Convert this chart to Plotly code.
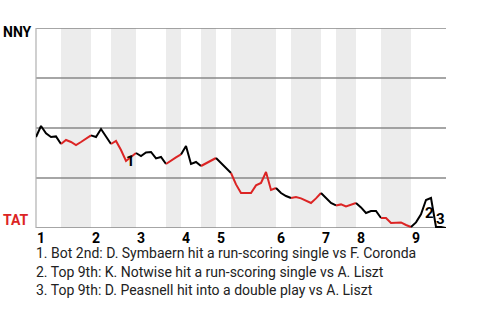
import plotly.graph_objects as go

# NNY win probability after each play (0 = TAT wins, 1 = NNY wins)
win_prob = [
    0.455, 0.51, 0.473, 0.455, 0.458, 0.42, 0.44, 0.43, 0.415, 0.43,
    0.448, 0.463, 0.455, 0.495, 0.46, 0.42, 0.435, 0.39, 0.335, 0.355,
    0.375, 0.36, 0.378, 0.38, 0.348, 0.355, 0.32, 0.338, 0.353, 0.368,
    0.41, 0.32, 0.33, 0.31, 0.323, 0.338, 0.35, 0.325, 0.303, 0.275,
    0.218, 0.175, 0.175, 0.175, 0.213, 0.225, 0.28, 0.19, 0.20, 0.175,
    0.16, 0.15, 0.155, 0.148, 0.135, 0.125, 0.148, 0.175, 0.15, 0.125,
    0.113, 0.118, 0.108, 0.115, 0.125, 0.103, 0.075, 0.085, 0.085, 0.05,
    0.05, 0.025, 0.025, 0.028, 0.015, 0.005, 0.028, 0.068, 0.14, 0.15,
    0.005, 0.005, 0.0,
]
# play index where each half inning starts
top_starts = [0, 11, 20, 29, 36, 48, 57, 64, 75]
bot_starts = [5, 15, 26, 33, 39, 51, 60, 69]
last_play = 82
inning_labels = ["1", "2", "3", "4", "5", "6", "7", "8", "9"]
grid_values = [0, 0.25, 0.5, 0.75, 1]

# key plays: (play index, label)
key_plays = [(18, "1"), (78, "2"), (80, "3")]
key_shifts = [(4, 0), (3, -13), (4, 8)]
notes = [
    "1. Bot 2nd: D. Symbaern hit a run-scoring single vs F. Coronda",
    "2. Top 9th: K. Notwise hit a run-scoring single vs A. Liszt",
    "3. Top 9th: D. Peasnell hit into a double play vs A. Liszt",
]
away_team = "NNY"
home_team = "TAT"

RED = "#dc2424"
FONT = "Roboto"

fig = go.Figure()

# half-inning intervals
halves = []
for s in top_starts:
    halves.append((s, "top"))
for s in bot_starts:
    halves.append((s, "bot"))
halves.sort()
bounds = [h[0] for h in halves] + [last_play]


def half_of(i):
    kind = None
    for s, k in halves:
        if i >= s:
            kind = k
    return kind


# shaded bands for bottom halves
for j, (s, k) in enumerate(halves):
    if k == "bot":
        fig.add_shape(type="rect", xref="x", yref="paper", x0=s, x1=bounds[j + 1],
                      y0=0, y1=1, fillcolor="#ececec", line_width=0, layer="below")
# horizontal reference lines
for v in grid_values:
    fig.add_shape(type="line", xref="paper", yref="y", x0=0, x1=1, y0=v, y1=v,
                  line=dict(color="#888", width=1.5), layer="below")
# left edge
fig.add_shape(type="line", xref="paper", yref="paper", x0=0, x1=0, y0=0, y1=1,
              line=dict(color="#b0b0b0", width=1.2), layer="below")

# line segments grouped by batting side
n = len(win_prob)
seg_start = 0
for i in range(n - 1):
    kind = half_of(i)
    nxt = half_of(i + 1) if i + 1 < n - 1 else kind
    if i == n - 2 or nxt != kind:
        xs = list(range(seg_start, i + 2))
        ys = win_prob[seg_start:i + 2]
        fig.add_trace(go.Scatter(x=xs, y=ys, mode="lines",
                                 line=dict(color=RED if kind == "bot" else "black", width=2),
                                 hoverinfo="skip", showlegend=False, cliponaxis=False))
        seg_start = i + 1

annotations = []
for (idx, lab), (dx, dy) in zip(key_plays, key_shifts):
    annotations.append(dict(x=idx, y=win_prob[idx], xref="x", yref="y", text=lab,
                            showarrow=False, xshift=dx, yshift=dy,
                            font=dict(family=FONT, size=15, color="black", weight="bold")))
for s, lab in zip(top_starts, inning_labels):
    annotations.append(dict(x=s, y=0, xref="x", yref="paper", text=lab, showarrow=False,
                            xanchor="left", yanchor="top", xshift=-1, yshift=0,
                            font=dict(family=FONT, size=14, color="black", weight="bold")))
annotations.append(dict(x=0, y=1, xref="paper", yref="paper", text=away_team, showarrow=False,
                        xanchor="left", yanchor="top", xshift=-35, yshift=6,
                        font=dict(family=FONT, size=14, color="black", weight="bold")))
annotations.append(dict(x=0, y=0, xref="paper", yref="paper", text=home_team, showarrow=False,
                        xanchor="left", yanchor="bottom", xshift=-35, yshift=-2,
                        font=dict(family=FONT, size=14, color=RED, weight="bold")))
for k, t in enumerate(notes):
    annotations.append(dict(x=0, y=0, xref="paper", yref="paper", text=t, showarrow=False,
                            xanchor="left", yanchor="middle", xshift=-2, yshift=-(25 + 18.5 * k),
                            font=dict(family=FONT, size=14, color="#222")))

fig.update_layout(
    width=480, height=320,
    margin=dict(l=36, r=34, t=28, b=92),
    paper_bgcolor="white", plot_bgcolor="rgba(0,0,0,0)",
    showlegend=False,
    annotations=annotations,
    xaxis=dict(range=[0, last_play], showgrid=False, zeroline=False, showticklabels=False,
               ticks="", showline=False, fixedrange=True),
    yaxis=dict(range=[0, 1], showgrid=False, zeroline=False, showticklabels=False, ticks="",
               showline=False, fixedrange=True),
)

fig.write_html("out.html")
